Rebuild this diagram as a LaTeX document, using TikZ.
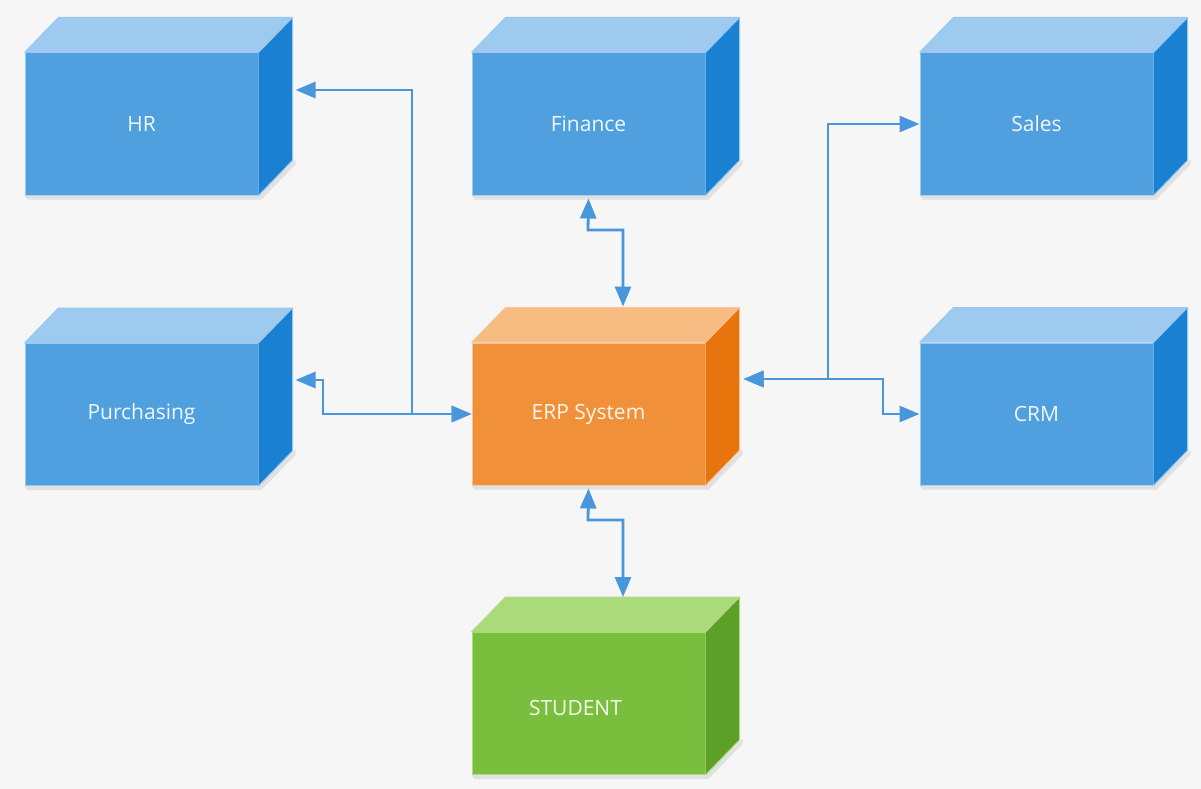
\documentclass[tikz,border=0pt]{standalone}
\usepackage{fontspec}
\setmainfont{Open Sans}
\usetikzlibrary{arrows.meta,calc}
\definecolor{bg}{RGB}{246,246,246}
\definecolor{bfront}{RGB}{80,160,224}
\definecolor{btop}{RGB}{158,202,240}
\definecolor{bside}{RGB}{26,128,210}
\definecolor{bedge}{RGB}{150,200,240}
\definecolor{ofront}{RGB}{240,145,58}
\definecolor{otop}{RGB}{246,188,130}
\definecolor{oside}{RGB}{232,116,14}
\definecolor{oedge}{RGB}{248,196,150}
\definecolor{gfront}{RGB}{122,190,62}
\definecolor{gtop}{RGB}{170,218,122}
\definecolor{gside}{RGB}{92,160,40}
\definecolor{gedge}{RGB}{176,220,130}
\definecolor{conn}{RGB}{72,150,220}
\definecolor{shadow}{RGB}{225,225,225}
\tikzset{
  cubebox/.style={rectangle, minimum width=233pt, minimum height=142pt, inner sep=0pt,
    font=\fontsize{21}{24}\selectfont, text=white, text opacity=0.92},
  bluebox/.style={cubebox, fill=bfront, draw=bedge, line width=1pt},
  orangebox/.style={cubebox, fill=ofront, draw=oedge, line width=1pt},
  greenbox/.style={cubebox, fill=gfront, draw=gedge, line width=1pt},
  link/.style={draw=conn, line width=2.8pt, line join=miter,
    {Triangle[length=20pt,width=16pt]}-{Triangle[length=20pt,width=16pt]}}
}
% faces of a cube drawn around the front node
\newcommand{\cubefaces}[4]{%
  \fill[#2] (#1.north west) -- ++(34pt,35pt) -- ($(#1.north east)+(34pt,35pt)$) -- (#1.north east) -- cycle;
  \fill[#3] (#1.north east) -- ++(34pt,35pt) -- ($(#1.south east)+(34pt,35pt)$) -- (#1.south east) -- cycle;
  \draw[#4, line width=1pt, line join=round] (#1.north west) -- ++(34pt,35pt) -- ($(#1.north east)+(34pt,35pt)$) -- ($(#1.south east)+(34pt,35pt)$) -- (#1.south east);
  \draw[#4, line width=1pt] (#1.north east) -- ++(34pt,35pt);
}
\newcommand{\cubeshadow}[1]{%
  \fill[shadow] ([xshift=3pt,yshift=-4pt]#1.south west) -- ([xshift=3pt,yshift=-4pt]#1.south east) -- ([xshift=37pt,yshift=31pt]#1.south east) -- ([xshift=37pt,yshift=36pt]#1.south east) -- ([xshift=0pt,yshift=0pt]#1.south east) -- (#1.south west) -- cycle;
}
\begin{document}
\begin{tikzpicture}[x=1pt,y=-1pt]
\fill[bg] (0,0) rectangle (1201,789);
\useasboundingbox (0,0) rectangle (1201,789);

\node[bluebox] (hr) at (141.5,124) {};
\node[bluebox] (fin) at (588.5,124) {};
\node[bluebox] (sales) at (1036.5,124) {};
\node[bluebox] (pur) at (141.5,414.5) {};
\node[orangebox] (erp) at (588.5,414) {};
\node[bluebox] (crm) at (1036.5,414) {};
\node[greenbox] (stu) at (588.5,703.5) {};

\foreach \b in {hr,fin,sales,pur,erp,crm,stu} {\cubeshadow{\b}}

\cubefaces{hr}{btop}{bside}{bedge}
\cubefaces{fin}{btop}{bside}{bedge}
\cubefaces{sales}{btop}{bside}{bedge}
\cubefaces{pur}{btop}{bside}{bedge}
\cubefaces{erp}{otop}{oside}{oedge}
\cubefaces{crm}{btop}{bside}{bedge}
\cubefaces{stu}{gtop}{gside}{gedge}

\node[cubebox] (hrl) at (hr) {HR};
\node[cubebox] (finl) at (fin) {Finance};
\node[cubebox] (salesl) at (sales) {Sales};
\node[cubebox] (purl) at (pur) {Purchasing};
\node[cubebox] (erpl) at (erp) {ERP System};
\node[cubebox] (crml) at (crm) {CRM};
\node[cubebox] (stul) at ([xshift=-13pt,yshift=-4pt]stu.center) {STUDENT};

% connector end points on the side and top faces
\coordinate (hrR) at ([xshift=37pt,yshift=34pt]hr.east);
\coordinate (purR) at ([xshift=37pt,yshift=34.5pt]pur.east);
\coordinate (erpR) at ([xshift=38pt,yshift=35pt]erp.east);
\coordinate (erpT) at ([xshift=34.5pt,yshift=36pt]erp.north);
\coordinate (stuT) at ([xshift=34.5pt,yshift=35pt]stu.north);
\coordinate (finB) at ([yshift=-3pt]fin.south);
\coordinate (erpB) at ([yshift=-3pt]erp.south);

\draw[link] (erp.west) -- (412,414) |- (hrR);
\draw[link] (purR) -- (323,380) -- (323,414) -- (erp.west);
\draw[link] (finB) -- (588,230) -| (erpT);
\draw[link] (erpB) -- (588,520) -| (stuT);
\draw[link] (erpR) -- (828,379) |- (sales.west);
\draw[link] (erpR) -- (883,379) |- (crm.west);
\end{tikzpicture}
\end{document}
